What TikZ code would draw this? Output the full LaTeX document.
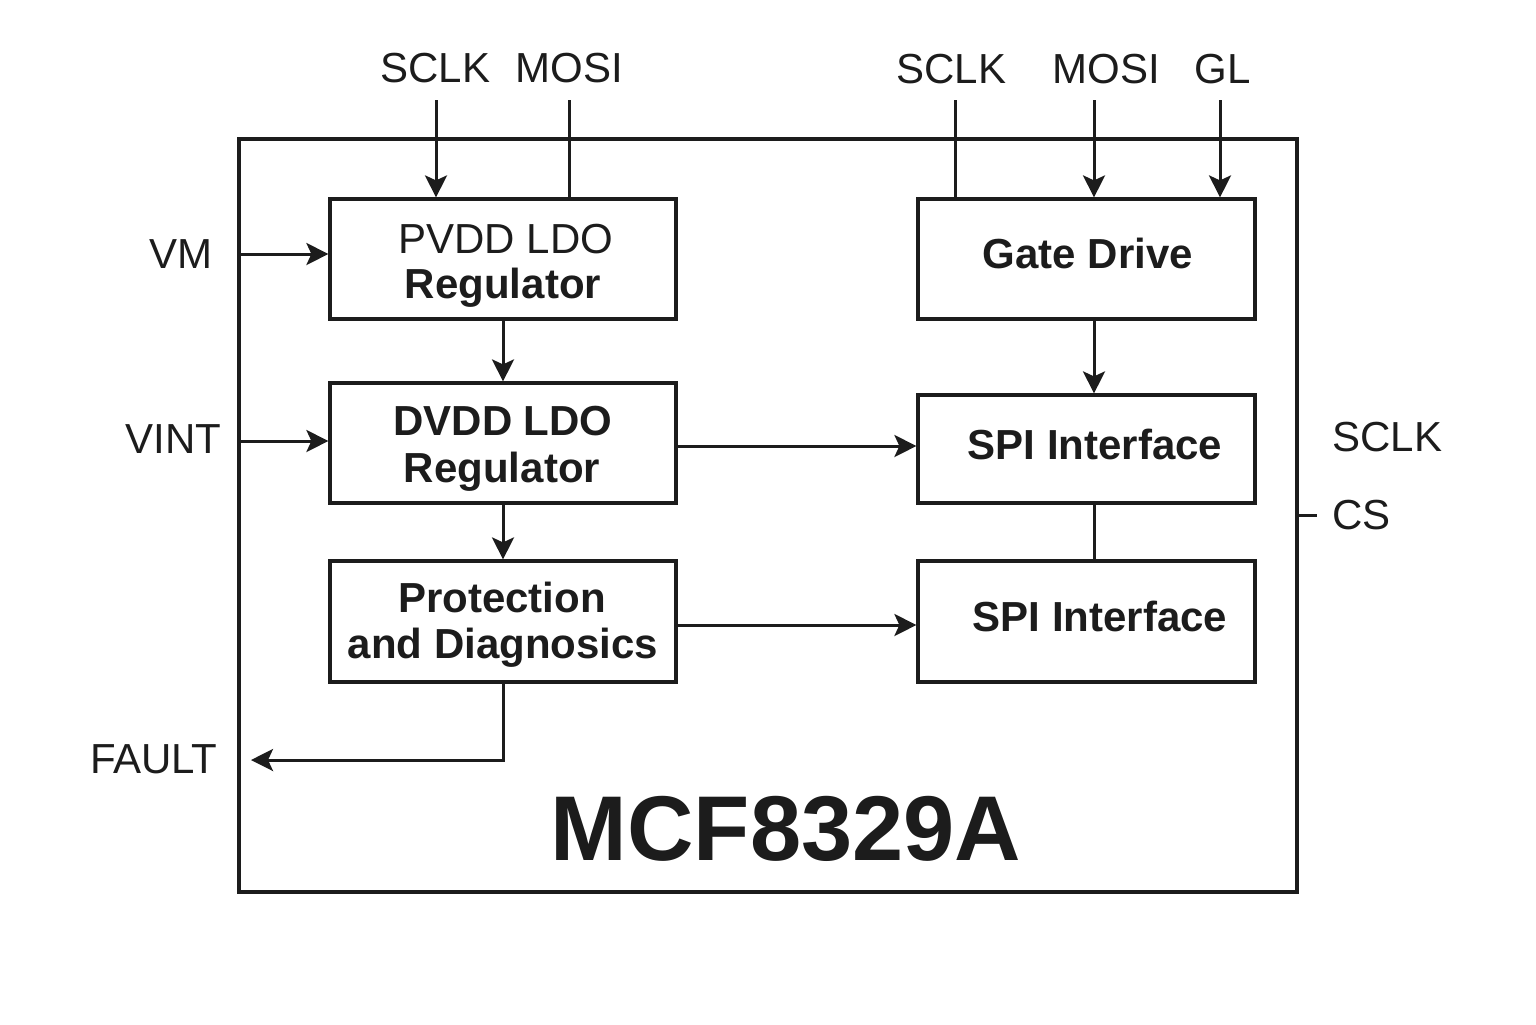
\documentclass[tikz,border=0pt]{standalone}
\usepackage{fontspec}
\setmainfont{Liberation Sans}
\usetikzlibrary{arrows.meta,calc}
\definecolor{ink}{HTML}{1C1C1C}
\begin{document}
\begin{tikzpicture}[x=0.5pt,y=-0.5pt,
  box/.style={draw=ink,line width=1.6pt,inner sep=0pt},
  btxt/.style={font=\fontsize{21}{24}\selectfont\bfseries,text=ink,inner sep=0pt,anchor=base},
  mtxt/.style={font=\fontsize{21}{24}\selectfont,text=ink,inner sep=0pt,anchor=base},
  lbl/.style={font=\fontsize{21}{24}\selectfont,text=ink,inner sep=0pt,anchor=base},
  wire/.style={draw=ink,line width=1.5pt},
  arr/.style={wire,-{Stealth[length=11pt,width=11pt,inset=2.5pt]}}]
\useasboundingbox[fill=white] (0,0) rectangle (1536,1024);
% outer chip
\node[box,minimum width=529pt,minimum height=376.5pt] (chip) at (768,515.5) {};
% blocks
\node[box,minimum width=173pt,minimum height=60pt] (pvdd) at (503,259) {};
\node[box,minimum width=173pt,minimum height=60pt] (dvdd) at (503,443) {};
\node[box,minimum width=173pt,minimum height=60.5pt] (prot) at (503,621.5) {};
\node[box,minimum width=168.5pt,minimum height=60pt] (gate) at (1086.5,259) {};
\node[box,minimum width=168.5pt,minimum height=54pt] (spi1) at (1086.5,449) {};
\node[box,minimum width=168.5pt,minimum height=60.5pt] (spi2) at (1086.5,621.5) {};
% block texts
\node[mtxt] (pvddA) at (506,253) {PVDD LDO};
\node[btxt] (pvddB) at (503,298) {Regulator};
\node[btxt] (dvddA) at (503,435) {DVDD LDO};
\node[btxt] (dvddB) at (502,482) {Regulator};
\node[btxt] (protA) at (502,612) {Protection};
\node[btxt] (protB) at (503,658) {and Diagnosics};
\node[btxt] (gateT) at (1088,268) {Gate Drive};
\node[btxt] (spi1T) at (1095,459) {SPI Interface};
\node[btxt] (spi2T) at (1100,631) {SPI Interface};
% title
\node[font=\fontsize{46}{50}\selectfont\bfseries,text=ink,inner sep=0pt,anchor=base] (title) at (786,860) {MCF8329A};
% top labels
\node[lbl] (lsclkA) at (435.5,82) {SCLK};
\node[lbl] (lmosiA) at (569.5,82) {MOSI};
\node[lbl] (lsclkB) at (951.5,83) {SCLK};
\node[lbl] (lmosiB) at (1106,83) {MOSI};
\node[lbl] (lgl) at (1222.5,83) {GL};
% side labels
\node[lbl,anchor=base east] (lvm) at (213,268) {VM};
\node[lbl,anchor=base east] (lvint) at (222,453) {VINT};
\node[lbl,anchor=base east] (lfault) at (218,773) {FAULT};
\node[lbl,anchor=base west] (lsclkC) at (1332,451) {SCLK};
\node[lbl,anchor=base west] (lcs) at (1332,529) {CS};
% free ends
\coordinate (tA) at (436,100);
\coordinate (tB) at (569,100);
\coordinate (tC) at (955,100);
\coordinate (tD) at (1094,100);
\coordinate (tE) at (1220,100);
\coordinate (vmIn) at (239,254);
\coordinate (vintIn) at (239,441);
\coordinate (faultOut) at (251,760);
\coordinate (dOut) at (676,446);
\coordinate (pOut) at (676,625);
\coordinate (gOut) at (1094,319);
\coordinate (csTick) at (1317,515);
% connectors
\draw[arr] (tA) -- (tA |- pvdd.north);
\draw[wire] (tB) -- (tB |- pvdd.north);
\draw[wire] (tC) -- (tC |- gate.north);
\draw[arr] (tD) -- (tD |- gate.north);
\draw[arr] (tE) -- (tE |- gate.north);
\draw[arr] (vmIn) -- (vmIn -| pvdd.west);
\draw[arr] (vintIn) -- (vintIn -| dvdd.west);
\draw[arr] (pvdd.south) -- (dvdd.north);
\draw[arr] (dvdd.south) -- (prot.north);
\draw[arr] (dOut) -- (dOut -| spi1.west);
\draw[arr] (pOut) -- (pOut -| spi2.west);
\draw[arr] (gOut) -- (gOut |- spi1.north);
\draw[wire] (gOut |- spi1.south) -- (gOut |- spi2.north);
\draw[arr] (prot.south) |- (faultOut);
\draw[wire] (chip.east |- csTick) -- (csTick);
\end{tikzpicture}
\end{document}
